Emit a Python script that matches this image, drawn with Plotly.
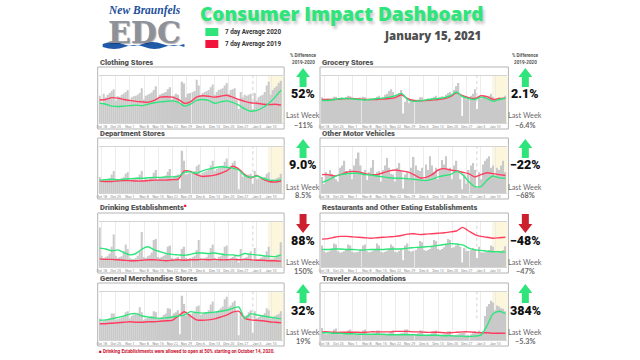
import plotly.graph_objects as go
import pandas as pd

W, H = 640, 360

DAYS = pd.date_range("2020-10-17", "2021-01-15", freq="D")
LINE_DAYS = pd.date_range("2020-10-17", "2021-01-15", freq="3D")
TICK_DAYS = pd.date_range("2020-10-18", "2021-01-10", freq="7D")
TICK_LABELS = [d.strftime("%b ") + str(d.day) for d in TICK_DAYS]

TITLES = ["Clothing Stores", "Grocery Stores", "Department Stores", "Other Motor Vehicles",
          "Drinking Establishments", "Restaurants and Other Eating Establishments",
          "General Merchandise Stores", "Traveler Accomodations"]
PCT_DIFF = ["52%", "2.1%", "9.0%", "\u221222%", "88%", "\u221248%", "32%", "384%"]
LAST_WEEK = ["\u221211%", "\u22126.4%", "8.5%", "\u221268%", "150%", "\u221247%", "19%", "\u22125.3%"]
ARROW_DIR = ["up", "up", "up", "up", "down", "down", "up", "up"]

# ---- Clothing Stores ----
clothing_bars = [58, 40, 62, 55, 60, 64, 68, 72, 48, 57, 56, 60, 63, 66, 70, 45, 55, 57, 58, 60, 64,
                 74, 50, 58, 60, 62, 65, 70, 78, 52, 60, 62, 64, 66, 72, 76, 50, 58, 62, 60, 40, 88,
                 84, 55, 62, 64, 66, 68, 92, 80, 58, 64, 66, 68, 70, 76, 82, 60, 66, 70, 72, 74, 80,
                 85, 62, 70, 72, 74, 50, 30, 66, 55, 60, 58, 60, 62, 30, 64, 48, 55, 58, 60, 66, 80,
                 88, 60, 70, 75, 78, 85, 90]
clothing_2019 = [49, 50, 54, 53, 50, 48, 46, 45, 44, 48, 55, 56, 55, 50, 42, 45, 55, 58, 57, 55,
                 57, 59, 55, 50, 46, 43, 42, 40, 39, 40, 38]
clothing_2020 = [42, 40, 36, 35, 36, 37, 38, 37, 40, 43, 45, 46, 47, 44, 36, 40, 48, 50, 48, 42,
                 45, 47, 44, 38, 30, 25, 27, 33, 42, 55, 70]

# ---- Grocery Stores ----
grocery_bars = [55, 48, 50, 52, 50, 52, 56, 56, 50, 52, 54, 53, 55, 58, 57, 50, 52, 53, 52, 54, 56,
                55, 48, 50, 52, 51, 53, 56, 58, 52, 55, 60, 62, 68, 72, 66, 55, 60, 64, 70, 20, 45,
                50, 42, 48, 50, 48, 50, 55, 55, 48, 50, 52, 51, 53, 56, 58, 52, 55, 57, 56, 60, 64,
                66, 60, 70, 78, 85, 60, 15, 55, 50, 55, 58, 62, 72, 30, 58, 52, 56, 58, 56, 58, 62,
                56, 50, 52, 54, 52, 55, 58]
grocery_2019 = [50, 50, 50, 51, 52, 52, 51, 50, 50, 50, 51, 52, 54, 60, 52, 48, 47, 48, 49, 50,
                52, 56, 64, 58, 54, 52, 58, 56, 50, 52, 53]
grocery_2020 = [48, 48, 50, 52, 52, 51, 50, 49, 50, 52, 53, 55, 58, 63, 50, 46, 47, 49, 51, 52,
                54, 58, 66, 56, 52, 50, 55, 52, 46, 50, 52]

# ---- Department Stores ----
department_bars = [35, 25, 30, 28, 30, 32, 40, 48, 28, 30, 30, 32, 34, 42, 45, 26, 30, 31, 32, 34, 40,
                   48, 28, 32, 30, 32, 35, 44, 50, 30, 34, 35, 36, 38, 46, 52, 32, 36, 38, 40, 10, 92,
                   70, 40, 42, 44, 45, 48, 58, 62, 40, 44, 46, 48, 50, 60, 70, 48, 52, 55, 58, 60, 68,
                   75, 55, 60, 66, 70, 50, 8, 50, 35, 40, 38, 40, 42, 20, 48, 30, 32, 30, 32, 35, 42,
                   45, 28, 30, 30, 32, 34, 42]
department_2019 = [26, 25, 25, 26, 27, 27, 26, 26, 27, 28, 28, 28, 29, 30, 48, 47, 40, 36, 37, 39,
                   43, 48, 58, 52, 40, 33, 38, 30, 25, 24, 26]
department_2020 = [28, 29, 30, 29, 30, 31, 32, 32, 33, 34, 34, 35, 35, 36, 45, 46, 43, 48, 52, 55,
                   57, 56, 54, 50, 38, 34, 37, 32, 28, 27, 29]

# ---- Other Motor Vehicles ----
motor_bars = [35, 20, 45, 40, 50, 42, 38, 30, 25, 55, 60, 70, 48, 40, 52, 30, 60, 75, 88, 60, 45,
              50, 28, 45, 55, 72, 40, 45, 48, 25, 50, 60, 76, 55, 42, 40, 25, 55, 65, 48, 10, 40,
              45, 30, 55, 78, 60, 50, 48, 55, 30, 62, 50, 80, 60, 45, 55, 30, 50, 72, 62, 80, 50,
              55, 30, 60, 70, 50, 30, 8, 40, 20, 50, 60, 65, 50, 12, 45, 30, 62, 70, 75, 80, 55,
              60, 35, 55, 50, 60, 70, 45]
motor_2019 = [40, 40, 37, 40, 45, 47, 46, 42, 40, 40, 44, 48, 50, 48, 46, 40, 33, 34, 40, 50,
              53, 50, 48, 45, 42, 35, 40, 44, 42, 40, 38]
motor_2020 = [23, 28, 35, 40, 42, 43, 43, 40, 39, 37, 35, 33, 32, 32, 31, 30, 28, 27, 30, 35,
              38, 40, 47, 40, 25, 14, 14, 28, 37, 33, 32]

# ---- Drinking Establishments ----
drinking_bars = [88, 25, 20, 22, 25, 30, 45, 72, 25, 20, 22, 24, 35, 50, 40, 20, 18, 18, 20, 25, 35,
                 78, 22, 20, 24, 26, 32, 60, 62, 22, 20, 22, 25, 28, 45, 48, 20, 18, 20, 22, 15, 40,
                 45, 20, 18, 20, 22, 25, 38, 60, 20, 18, 20, 22, 28, 42, 50, 20, 18, 22, 24, 30, 45,
                 48, 18, 20, 22, 25, 20, 10, 40, 18, 20, 22, 30, 35, 15, 42, 18, 18, 20, 22, 25, 35,
                 45, 18, 18, 20, 24, 28, 55]
drinking_2019 = [18, 17, 17, 16, 15, 14, 14, 15, 16, 16, 15, 14, 15, 16, 15, 16, 16, 17, 16, 17,
                 16, 16, 17, 16, 17, 16, 15, 15, 14, 14, 13]
drinking_2020 = [42, 40, 36, 38, 32, 27, 30, 40, 45, 38, 34, 30, 28, 27, 26, 28, 31, 31, 30, 31,
                 29, 27, 27, 25, 30, 28, 27, 25, 24, 23, 27]

# ---- Restaurants and Other Eating Establishments ----
restaurant_bars = [48, 35, 32, 34, 36, 40, 52, 50, 35, 32, 33, 35, 40, 50, 48, 34, 32, 33, 34, 38, 48,
                   50, 35, 33, 34, 36, 40, 52, 48, 34, 32, 34, 36, 40, 50, 46, 34, 33, 36, 40, 15, 48,
                   52, 36, 34, 36, 38, 42, 58, 55, 38, 36, 38, 40, 45, 60, 58, 40, 38, 40, 44, 50, 62,
                   60, 42, 44, 48, 52, 45, 10, 42, 35, 36, 38, 42, 40, 20, 45, 33, 32, 33, 35, 38, 48,
                   45, 32, 32, 33, 35, 38, 46]
restaurant_2019 = [62, 63, 66, 68, 68, 67, 66, 65, 64, 65, 66, 67, 68, 70, 73, 74, 72, 73, 74, 75,
                   76, 78, 80, 88, 80, 72, 68, 66, 64, 65, 66]
restaurant_2020 = [39, 39, 40, 40, 39, 39, 38, 38, 39, 39, 39, 40, 40, 40, 42, 43, 44, 45, 46, 48,
                   50, 52, 51, 49, 42, 38, 37, 35, 34, 34, 33]

# ---- General Merchandise Stores ----
merch_bars = [45, 38, 40, 42, 44, 46, 55, 55, 42, 44, 45, 46, 48, 58, 60, 45, 50, 52, 54, 56, 68,
              58, 42, 45, 46, 48, 50, 60, 58, 44, 46, 48, 52, 55, 66, 65, 50, 55, 58, 62, 12, 92,
              75, 50, 52, 54, 56, 58, 70, 72, 52, 54, 56, 58, 62, 74, 80, 56, 60, 62, 66, 70, 85,
              90, 68, 72, 78, 82, 60, 10, 55, 45, 50, 52, 58, 62, 15, 60, 45, 48, 50, 52, 56, 66,
              62, 45, 48, 50, 52, 54, 60]
merch_2019 = [34, 34, 35, 36, 37, 38, 37, 37, 38, 38, 39, 40, 41, 50, 59, 50, 42, 41, 42, 44,
              48, 52, 58, 60, 45, 42, 41, 40, 38, 37, 36]
merch_2020 = [41, 42, 44, 47, 50, 54, 55, 50, 48, 46, 45, 46, 48, 50, 52, 59, 57, 56, 57, 58,
              60, 62, 66, 69, 45, 55, 52, 50, 48, 46, 44]

# ---- Traveler Accomodations ----
travel_bars = [25, 14, 12, 13, 14, 16, 22, 24, 13, 12, 12, 13, 15, 20, 22, 12, 11, 12, 13, 15, 20,
               22, 12, 11, 12, 12, 14, 20, 20, 12, 11, 11, 12, 14, 18, 20, 12, 12, 13, 14, 15, 22,
               22, 12, 11, 12, 12, 14, 20, 20, 11, 10, 11, 12, 14, 18, 20, 11, 10, 11, 12, 14, 18,
               18, 10, 10, 11, 12, 14, 15, 16, 10, 11, 12, 14, 18, 16, 20, 14, 18, 50, 70, 75, 82,
               78, 62, 72, 70, 66, 65, 60]
travel_2019 = [17, 17, 16, 16, 16, 16, 16, 16, 17, 17, 17, 17, 18, 18, 18, 17, 17, 16, 16, 16,
               15, 15, 16, 17, 17, 16, 15, 15, 14, 14, 14]
travel_2020 = [15, 15, 14, 14, 13, 13, 12, 12, 12, 12, 12, 11, 11, 11, 11, 11, 10, 10, 10, 10,
               9, 9, 8, 8, 7, 8, 10, 30, 55, 60, 55]

BARS = [clothing_bars, grocery_bars, department_bars, motor_bars,
        drinking_bars, restaurant_bars, merch_bars, travel_bars]
Y2019 = [clothing_2019, grocery_2019, department_2019, motor_2019,
         drinking_2019, restaurant_2019, merch_2019, travel_2019]
Y2020 = [clothing_2020, grocery_2020, department_2020, motor_2020,
         drinking_2020, restaurant_2020, merch_2020, travel_2020]

GREEN = "#2fe57b"
RED = "#ff3d5e"
ARROW_RED = "#cc2030"
BAR = "#c9c9c9"

COL_X = [(96, 283), (319, 508)]
ROW_Y = [(67, 129), (138, 199), (213, 273), (283, 346)]
IND_X = [302, 525]


def fx(x):
    return x / W


def fy(y):
    return 1 - y / H


def pt(x, y):
    return f"{fx(x):.5f},{fy(y):.5f}"


fig = go.Figure()
shapes = []
annotations = []
layout_axes = {}

X_RANGE = ["2020-10-16 12:00", "2021-01-16 00:00"]

for i in range(8):
    k = i + 1
    sfx = "" if k == 1 else str(k)
    col = i % 2
    row = i // 2
    x0, x1 = COL_X[col]
    y0, y1 = ROW_Y[row]
    ix0, ix1 = x0 + 1, x1 - 1
    iy0, iy1 = y0 + 9, y1 - 6
    xa = f"x{sfx}"
    ya = f"y{sfx}"
    fig.add_trace(go.Bar(x=DAYS, y=BARS[i], marker_color=BAR, marker_line_width=0,
                         xaxis=xa, yaxis=ya, showlegend=False, hoverinfo="skip"))
    fig.add_trace(go.Scatter(x=LINE_DAYS, y=Y2019[i], mode="lines",
                             line=dict(color=RED, width=1.4, shape="spline", smoothing=0.6),
                             xaxis=xa, yaxis=ya, showlegend=False))
    fig.add_trace(go.Scatter(x=LINE_DAYS, y=Y2020[i], mode="lines",
                             line=dict(color=GREEN, width=1.4, shape="spline", smoothing=0.6),
                             xaxis=xa, yaxis=ya, showlegend=False))
    common = dict(type="date", range=X_RANGE, tickvals=list(TICK_DAYS), ticktext=TICK_LABELS,
                  tickangle=0, tickfont=dict(size=3.6, color="#8a8a8a", family="Roboto"),
                  ticks="", ticklen=0, fixedrange=True)
    layout_axes[f"xaxis{sfx}"] = dict(domain=[fx(ix0), fx(ix1)], anchor=ya, showgrid=True,
                                      gridcolor="#ececec", gridwidth=0.6, showline=True,
                                      linecolor="#d4d4d4", linewidth=0.8, mirror=True, **common)
    layout_axes[f"xaxis{k + 8}"] = dict(overlaying=xa, side="top", anchor=ya, showgrid=False,
                                        showline=False, **common)
    layout_axes[f"yaxis{sfx}"] = dict(domain=[fy(iy1), fy(iy0)], anchor=xa, range=[0, 100],
                                      visible=False, fixedrange=True)
    # outer box
    shapes.append(dict(type="rect", xref="paper", yref="paper", x0=fx(x0), x1=fx(x1),
                       y0=fy(y1), y1=fy(y0), line=dict(color="#b4b4b4", width=1), layer="above"))
    # current-week highlight
    shapes.append(dict(type="rect", xref=xa, yref=f"{ya} domain", x0="2021-01-08 12:00",
                       x1="2021-01-16", y0=0, y1=1, fillcolor="#fcf6dc", line_width=0,
                       layer="below"))
    # holiday marker
    shapes.append(dict(type="line", xref=xa, yref=f"{ya} domain", x0="2021-01-01",
                       x1="2021-01-01", y0=0.45, y1=1, line=dict(color="#c8c8c8", width=0.8,
                                                                   dash="dot"), layer="below"))
    # title
    annotations.append(dict(text=TITLES[i], xref="paper", yref="paper", x=fx(x0), y=fy(y0 - 5),
                            xanchor="left", yanchor="middle", showarrow=False,
                            font=dict(size=7.6, color="#555555", family="Roboto", weight=900)))
    # indicator
    cx = IND_X[col]
    ind_top = y0 + 1
    color = GREEN if ARROW_DIR[i] == "up" else ARROW_RED
    a0, a1 = ind_top, ind_top + 19
    if ARROW_DIR[i] == "up":
        path = ("M " + pt(cx, a0) + " L " + pt(cx + 7, a0 + 9) + " L " + pt(cx + 3.5, a0 + 9) +
                " L " + pt(cx + 3.5, a1) + " L " + pt(cx - 3.5, a1) + " L " + pt(cx - 3.5, a0 + 9) +
                " L " + pt(cx - 7, a0 + 9) + " Z")
    else:
        path = ("M " + pt(cx, a1) + " L " + pt(cx + 7, a1 - 9) + " L " + pt(cx + 3.5, a1 - 9) +
                " L " + pt(cx + 3.5, a0) + " L " + pt(cx - 3.5, a0) + " L " + pt(cx - 3.5, a1 - 9) +
                " L " + pt(cx - 7, a1 - 9) + " Z")
    shapes.append(dict(type="path", xref="paper", yref="paper", path=path, fillcolor=color,
                       line_width=0))
    annotations.append(dict(text=PCT_DIFF[i], xref="paper", yref="paper", x=fx(cx),
                            y=fy(ind_top + 26), xanchor="center", yanchor="middle",
                            showarrow=False,
                            font=dict(size=12.5, color="#111111", family="Roboto", weight=900)))
    annotations.append(dict(text="Last Week", xref="paper", yref="paper", x=fx(cx),
                            y=fy(ind_top + 48), xanchor="center", yanchor="middle",
                            showarrow=False, font=dict(size=7.3, color="#6a6a6a", family="Lato")))
    annotations.append(dict(text=LAST_WEEK[i], xref="paper", yref="paper", x=fx(cx),
                            y=fy(ind_top + 57), xanchor="center", yanchor="middle",
                            showarrow=False,
                            font=dict(size=7.3, color="#6a6a6a", family="Lato", weight=700)))

# % Difference headers
for cx in IND_X:
    annotations.append(dict(text="% Difference", xref="paper", yref="paper", x=fx(cx), y=fy(55),
                            xanchor="center", yanchor="middle", showarrow=False,
                            font=dict(size=4.6, color="#555555", family="Roboto", weight=700)))
    annotations.append(dict(text="2019-2020", xref="paper", yref="paper", x=fx(cx), y=fy(62),
                            xanchor="center", yanchor="middle", showarrow=False,
                            font=dict(size=4.6, color="#555555", family="Roboto", weight=700)))

# header title
annotations.append(dict(text="Consumer Impact Dashboard", xref="paper", yref="paper", x=fx(341),
                        y=fy(14), xanchor="center", yanchor="middle", showarrow=False,
                        font=dict(size=19, color="#2fe57b", family="Open Sans", weight=800,
                                  shadow="2px 3px 3px rgba(0,0,0,0.22)")))
annotations.append(dict(text="January 15, 2021", xref="paper", yref="paper", x=fx(483),
                        y=fy(36), xanchor="right", yanchor="middle", showarrow=False,
                        font=dict(size=11.5, color="#4f4f4f", family="Open Sans", weight=800)))

# legend
LEGEND_LABELS = ["7 day Average 2020", "7 day Average 2019"]
LEGEND_COLORS = [GREEN, "#f0143c"]
for j, (lab, colr) in enumerate(zip(LEGEND_LABELS, LEGEND_COLORS)):
    yc = 32 + j * 12
    shapes.append(dict(type="rect", xref="paper", yref="paper", x0=fx(204), x1=fx(217),
                       y0=fy(yc + 4), y1=fy(yc - 4), fillcolor=colr, line_width=0))
    annotations.append(dict(text=lab, xref="paper", yref="paper", x=fx(222), y=fy(yc),
                            xanchor="left", yanchor="middle", showarrow=False,
                            font=dict(size=6.3, color="#333333", family="Roboto", weight=700)))

# logo
annotations.append(dict(text="New Braunfels", xref="paper", yref="paper", x=fx(143), y=fy(10),
                        xanchor="center", yanchor="middle", showarrow=False,
                        font=dict(size=11.5, color="#1d4f9c", family="Liberation Serif",
                                  style="italic", weight=700)))
annotations.append(dict(text="EDC", xref="paper", yref="paper", x=fx(143), y=fy(32),
                        xanchor="center", yanchor="middle", showarrow=False,
                        font=dict(size=30, color="#8d9199", family="DejaVu Serif", weight=700,
                                  shadow="1px 1px 1px rgba(0,0,0,0.3)")))
wave = ("M " + pt(101, 44) + " Q " + pt(111, 40) + " " + pt(121, 44) + " T " + pt(141, 44) +
        " T " + pt(161, 44) + " T " + pt(183, 44) + " L " + pt(183, 47) + " Q " + pt(173, 43) +
        " " + pt(163, 47) + " T " + pt(143, 47) + " T " + pt(123, 47) + " T " + pt(101, 47) + " Z")
shapes.append(dict(type="path", xref="paper", yref="paper", path=wave, fillcolor="#1f5aa8",
                   line_width=0))

# footnote
annotations.append(dict(text="\u25a0 Drinking Establishments were allowed to open at 50% starting on October 14, 2020.",
                        xref="paper", yref="paper", x=fx(95), y=fy(351), xanchor="left",
                        yanchor="middle", showarrow=False,
                        font=dict(size=4.6, color="#c8102e", family="Roboto", weight=700)))
annotations.append(dict(text="\u25a0", xref="paper", yref="paper", x=fx(181), y=fy(205),
                        xanchor="left", yanchor="middle", showarrow=False,
                        font=dict(size=4.5, color="#e8102e", family="Roboto")))

fig.update_layout(width=W, height=H, margin=dict(l=0, r=0, t=0, b=0), paper_bgcolor="white",
                  plot_bgcolor="white", bargap=0.28, shapes=shapes, annotations=annotations,
                  showlegend=False, **layout_axes)

fig.write_html("out.html", config={"displayModeBar": False},
               post_script="document.body.style.margin='0';document.body.style.overflow='hidden';")
